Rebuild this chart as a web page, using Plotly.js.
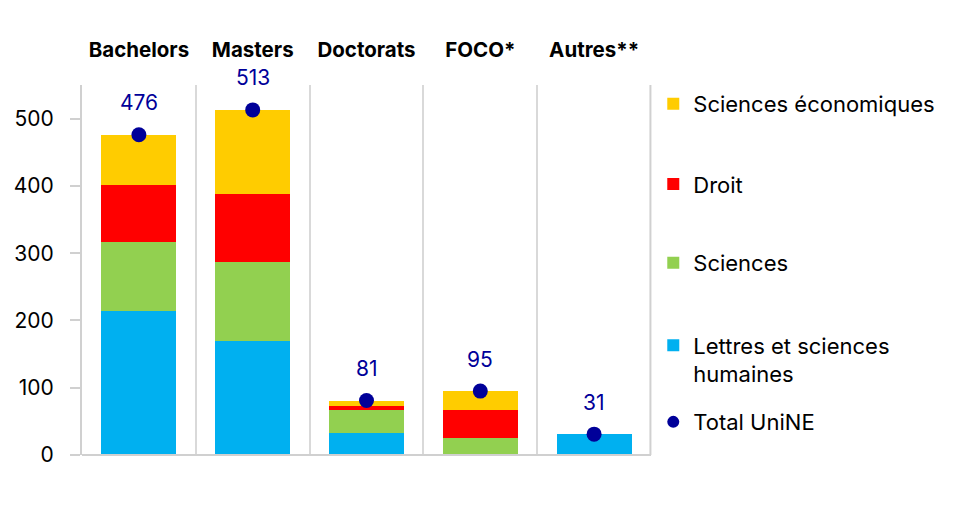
<!DOCTYPE html>
<html><head><meta charset="utf-8">
<script src="https://cdn.plot.ly/plotly-3.0.1.min.js"></script>
<style>html,body{margin:0;padding:0;background:#fff}#c{width:966px;height:506px}</style>
</head><body><div id="c"></div>
<script>
const categories = ['Bachelors', 'Masters', 'Doctorats', 'FOCO*', 'Autres**'];
const lettres = [214, 170, 32, 0, 31];
const sciences = [103, 117, 35, 25, 0];
const droit = [85, 101, 6, 42, 0];
const economie = [74, 125, 8, 28, 0];
const totals = [476, 513, 81, 95, 31];
const seriesNames = ['Lettres et sciences<br>humaines', 'Sciences', 'Droit', 'Sciences économiques', 'Total UniNE'];
const colors = ['#00B0F0', '#92D050', '#FF0000', '#FFCC00', '#000099'];

const FONT = 'Inter, "Open Sans", sans-serif';
const barSeries = [lettres, sciences, droit, economie];
// one legend per item so each can sit at its own height
const legendIds = ['legend4', 'legend3', 'legend2', 'legend', 'legend5'];
const legendY = [0.257, 0.519, 0.732, 0.949, 0.089];

const traces = barSeries.map((vals, i) => ({
  type: 'bar', x: categories, y: vals, name: seriesNames[i],
  marker: {color: colors[i]}, legend: legendIds[i]
}));
traces.push({
  type: 'scatter', mode: 'markers', x: categories, y: totals, name: seriesNames[4],
  marker: {color: colors[4], size: 15}, legend: legendIds[4]
});

const annotations = categories.map((c, i) => ({
  x: c, y: totals[i], text: String(totals[i]), showarrow: false,
  yshift: 32, font: {family: FONT, size: 21, color: colors[4]}
}));

const layout = {
  width: 966, height: 506,
  margin: {l: 82, r: 315, t: 85, b: 51},
  paper_bgcolor: '#fff', plot_bgcolor: '#fff',
  barmode: 'stack', bargap: 0.34,
  font: {family: FONT, size: 20, color: '#000'},
  showlegend: true,
  xaxis: {type: 'category', side: 'top', tickson: 'boundaries', showgrid: true,
    gridcolor: '#d9d9d9', gridwidth: 2, ticks: '', showline: false, zeroline: false,
    tickfont: {family: FONT, size: 20.5, color: '#000', weight: 'bold'}, ticklabelstandoff: 23},
  yaxis: {range: [0, 550], dtick: 100, showgrid: false, zeroline: false,
    showline: true, linecolor: '#d0d0d0', linewidth: 2, ticks: 'outside', ticklen: 10,
    tickcolor: '#d0d0d0', tickwidth: 2, ticklabelstandoff: 12,
    tickfont: {family: FONT, size: 21, color: '#000'}},
  shapes: [
    {type: 'line', xref: 'paper', yref: 'paper', x0: 0, x1: 1, y0: 0, y1: 0,
      line: {color: '#d0d0d0', width: 2}, layer: 'above'},
    {type: 'line', xref: 'paper', yref: 'paper', x0: 0.999, x1: 0.999, y0: 0, y1: 1,
      line: {color: '#d0d0d0', width: 2}, layer: 'above'}
  ],
  annotations: annotations
};
legendIds.forEach((id, i) => {
  layout[id] = {x: 1.004, xanchor: 'left', y: legendY[i], yanchor: 'middle',
    valign: 'top', bgcolor: 'rgba(0,0,0,0)', itemwidth: 30, itemsizing: 'constant',
    font: {family: FONT, size: 22, color: '#000'}};
});
Plotly.newPlot('c', traces, layout, {displayModeBar: false, staticPlot: true});
</script></body></html>
